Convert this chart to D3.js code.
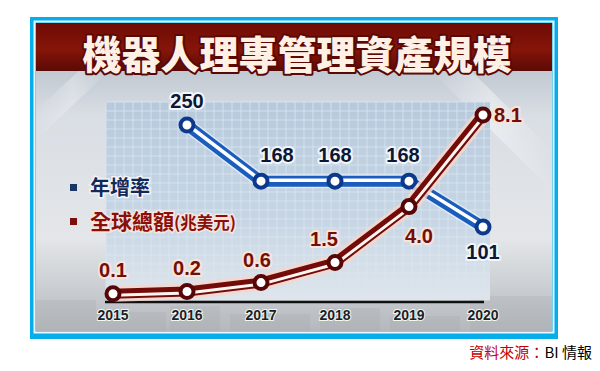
<!DOCTYPE html>
<html>
<head>
<meta charset="utf-8">
<script src="https://cdn.jsdelivr.net/npm/d3@7"></script>
<style>
  body { margin: 0; background: #fff; }
  text { font-family: "Noto Sans CJK TC", "Liberation Sans", sans-serif; }
</style>
</head>
<body>
<div id="chart"></div>
<script>
var width = 600
var height = 371

// data
var years = ["2015", "2016", "2017", "2018", "2019", "2020"]
var growth = [null, 250, 168, 168, 168, 101]          // 年增率
var total = [0.1, 0.2, 0.6, 1.5, 4.0, 8.1]            // 全球總額(兆美元)
var totalLabels = ["0.1", "0.2", "0.6", "1.5", "4.0", "8.1"]
var title = "機器人理專管理資產規模"

// label nudges (layout only)
var growthDx = [0, 0, 16, 0, -6, 0]
var growthDy = [0, -24, -26, -26, -26, 25]
var totalDx = [0, 0, -4, -11, 10, 11]
var totalDy = [-24, -24, -23, -24, 29, 0]

var x = d3.scalePoint().domain(years).range([113, 483])
var yG = d3.scaleLinear().domain([101, 250]).range([227, 125])
var yT = d3.scaleLinear().domain([0, 8.1]).range([296, 115])

var svg = d3.select("#chart").append("svg")
    .attr("width", width)
    .attr("height", height)

var defs = svg.append("defs")
var bg = defs.append("linearGradient").attr("id", "bg").attr("x1", 0).attr("y1", 0).attr("x2", 0).attr("y2", 1)
bg.append("stop").attr("offset", "0%").attr("stop-color", "#a7b1be")
bg.append("stop").attr("offset", "30%").attr("stop-color", "#d9dee4")
bg.append("stop").attr("offset", "70%").attr("stop-color", "#e4e6e9")
bg.append("stop").attr("offset", "100%").attr("stop-color", "#b4b8bd")

var ban = defs.append("linearGradient").attr("id", "ban").attr("x1", 0).attr("y1", 0).attr("x2", 0).attr("y2", 1)
ban.append("stop").attr("offset", "0%").attr("stop-color", "#6e0b05")
ban.append("stop").attr("offset", "55%").attr("stop-color", "#861509")
ban.append("stop").attr("offset", "100%").attr("stop-color", "#5a0a06")

var shine = defs.append("linearGradient").attr("id", "shine").attr("x1", 0).attr("y1", 0).attr("x2", 1).attr("y2", 0)
shine.append("stop").attr("offset", "0%").attr("stop-color", "#fff").attr("stop-opacity", 0)
shine.append("stop").attr("offset", "50%").attr("stop-color", "#fff").attr("stop-opacity", 0.5)
shine.append("stop").attr("offset", "100%").attr("stop-color", "#fff").attr("stop-opacity", 0)

var gp = defs.append("linearGradient").attr("id", "gp").attr("x1", 0).attr("y1", 0).attr("x2", 0).attr("y2", 1)
gp.append("stop").attr("offset", "0%").attr("stop-color", "#b3c8dc")
gp.append("stop").attr("offset", "60%").attr("stop-color", "#c3d4e4")
gp.append("stop").attr("offset", "100%").attr("stop-color", "#e2e8ee")

// frame
svg.append("rect").attr("x", 30).attr("y", 17).attr("width", 528).attr("height", 322).attr("fill", "#05aeea")
svg.append("rect").attr("x", 34.5).attr("y", 21.5).attr("width", 519).attr("height", 311).attr("fill", "none").attr("stroke", "#e8f7fd").attr("stroke-width", 2)
svg.append("rect").attr("x", 36).attr("y", 23).attr("width", 516).attr("height", 308).attr("fill", "url(#bg)")

// light diagonal streaks in the background
svg.append("polygon").attr("points", "430,70 470,70 552,150 552,190").attr("fill", "url(#shine)").attr("opacity", 0.8)
svg.append("polygon").attr("points", "36,110 36,140 110,70 80,70").attr("fill", "url(#shine)").attr("opacity", 0.6)

// rough skyline along the bottom
var sky = [[36, 300, 60], [96, 312, 70], [170, 306, 50], [230, 314, 80], [320, 308, 60], [390, 316, 70], [470, 296, 82]]
svg.append("g").selectAll("rect").data(sky).enter().append("rect")
    .attr("x", function(d) { return d[0] })
    .attr("y", function(d) { return d[1] })
    .attr("width", function(d) { return d[2] })
    .attr("height", function(d) { return 331 - d[1] })
    .attr("fill", "#9fa4aa").attr("opacity", 0.22)

// banner
svg.append("rect").attr("x", 36).attr("y", 23).attr("width", 516).attr("height", 48).attr("fill", "url(#ban)")
svg.append("text")
    .attr("x", 297).attr("y", 69)
    .attr("text-anchor", "middle")
    .style("font-size", "39px").style("font-weight", 900)
    .attr("fill", "#fff0e6")
    .attr("stroke", "#5a0805").attr("stroke-width", 4).attr("paint-order", "stroke")
    .attr("stroke-linejoin", "round")
    .text(title)

// grid panel
var grid = svg.append("g")
grid.append("rect").attr("x", 106).attr("y", 102).attr("width", 384).attr("height", 198).attr("fill", "url(#gp)").attr("opacity", 0.9)
grid.selectAll("line.v").data(d3.range(106, 491, 9)).enter().append("line")
    .attr("x1", function(d) { return d }).attr("x2", function(d) { return d })
    .attr("y1", 102).attr("y2", 300)
    .attr("stroke", "#dbe6f1").attr("stroke-width", 1).attr("opacity", 0.8)
grid.selectAll("line.h").data(d3.range(102, 301, 9)).enter().append("line")
    .attr("y1", function(d) { return d }).attr("y2", function(d) { return d })
    .attr("x1", 106).attr("x2", 490)
    .attr("stroke", "#dbe6f1").attr("stroke-width", 1).attr("opacity", 0.8)

// baseline + years
svg.append("line").attr("x1", 105).attr("x2", 484).attr("y1", 302).attr("y2", 302)
    .attr("stroke", "#111").attr("stroke-width", 2.5)
svg.append("g").selectAll("text").data(years).enter().append("text")
    .attr("x", function(d) { return x(d) })
    .attr("y", 320)
    .attr("text-anchor", "middle")
    .style("font-family", "'Liberation Sans', Arial, sans-serif")
    .style("font-size", "14px").style("font-weight", "bold")
    .attr("fill", "#1a1f2e")
    .attr("stroke", "#f4f6e8").attr("stroke-width", 2).attr("paint-order", "stroke")
    .text(function(d) { return d })

// growth line (blue)
var gPts = years.map(function(d, i) { return { x: x(d), v: growth[i], i: i } }).filter(function(d) { return d.v != null })
var gLine = d3.line().x(function(d) { return d.x }).y(function(d) { return yG(d.v) })
svg.append("path").attr("d", gLine(gPts)).attr("fill", "none")
    .attr("stroke", "#eef4fb").attr("stroke-width", 14).attr("stroke-linejoin", "round").attr("opacity", 0.7)
svg.append("path").attr("d", gLine(gPts)).attr("fill", "none")
    .attr("stroke", "#1b5dbd").attr("stroke-width", 11).attr("stroke-linejoin", "round")
svg.append("path").attr("d", gLine(gPts)).attr("fill", "none")
    .attr("transform", "translate(-0.5,-1)")
    .attr("stroke", "#ffffff").attr("stroke-width", 3.5).attr("stroke-linejoin", "round")
svg.append("g").selectAll("circle").data(gPts).enter().append("circle")
    .attr("cx", function(d) { return d.x }).attr("cy", function(d) { return yG(d.v) })
    .attr("r", 6.5).attr("fill", "#fff").attr("stroke", "#0b3a8c").attr("stroke-width", 4)

// total line (red)
var tPts = years.map(function(d, i) { return { x: x(d), v: total[i], i: i } })
var tLine = d3.line().x(function(d) { return d.x }).y(function(d) { return yT(d.v) })
svg.append("path").attr("d", tLine(tPts)).attr("fill", "none")
    .attr("stroke", "#f6d6cc").attr("stroke-width", 16).attr("stroke-linejoin", "round").attr("opacity", 0.85)
svg.append("path").attr("d", tLine(tPts)).attr("fill", "none")
    .attr("stroke", "#730b08").attr("stroke-width", 10).attr("stroke-linejoin", "round")
svg.append("path").attr("d", tLine(tPts)).attr("fill", "none")
    .attr("transform", "translate(0.5,1.5)")
    .attr("stroke", "#fff6f2").attr("stroke-width", 3).attr("stroke-linejoin", "round")
svg.append("g").selectAll("circle").data(tPts).enter().append("circle")
    .attr("cx", function(d) { return d.x }).attr("cy", function(d) { return yT(d.v) })
    .attr("r", 6.5).attr("fill", "#fff").attr("stroke", "#560606").attr("stroke-width", 4)

// value labels
svg.append("g").selectAll("text").data(gPts).enter().append("text")
    .attr("x", function(d) { return d.x + growthDx[d.i] })
    .attr("y", function(d) { return yG(d.v) + growthDy[d.i] })
    .attr("dy", "0.36em")
    .attr("text-anchor", "middle")
    .style("font-family", "'Liberation Sans', Arial, sans-serif")
    .style("font-size", "20px").style("font-weight", "bold")
    .attr("fill", "#0c1733")
    .attr("stroke", "#f2f6fb").attr("stroke-width", 4).attr("paint-order", "stroke").attr("stroke-linejoin", "round")
    .text(function(d) { return d.v })

svg.append("g").selectAll("text").data(tPts).enter().append("text")
    .attr("x", function(d) { return d.x + totalDx[d.i] })
    .attr("y", function(d) { return yT(d.v) + totalDy[d.i] })
    .attr("dy", "0.36em")
    .attr("text-anchor", function(d) { return d.i == years.length - 1 ? "start" : "middle" })
    .style("font-family", "'Liberation Sans', Arial, sans-serif")
    .style("font-size", "20px").style("font-weight", "bold")
    .attr("fill", "#6e1009")
    .attr("stroke", "#fbe3da").attr("stroke-width", 4).attr("paint-order", "stroke").attr("stroke-linejoin", "round")
    .text(function(d) { return totalLabels[d.i] })

// legend
var legend = svg.append("g")
legend.append("rect").attr("x", 70).attr("y", 184).attr("width", 7).attr("height", 7).attr("fill", "#1a3463")
legend.append("text").attr("x", 90).attr("y", 195)
    .style("font-size", "20px").style("font-weight", "bold")
    .attr("fill", "#13295a")
    .attr("stroke", "#f3f5f8").attr("stroke-width", 3).attr("paint-order", "stroke")
    .text("年增率")
legend.append("rect").attr("x", 70).attr("y", 218).attr("width", 7).attr("height", 7).attr("fill", "#7a0f0b")
var t2 = legend.append("text").attr("x", 90).attr("y", 229)
    .style("font-weight", "bold")
    .attr("fill", "#8a0f0a")
    .attr("stroke", "#f7e6e0").attr("stroke-width", 3).attr("paint-order", "stroke")
t2.append("tspan").style("font-size", "21px").text("全球總額")
t2.append("tspan").style("font-size", "16.5px").text("(兆美元)")

// source
var src = svg.append("text").attr("x", 592).attr("y", 358)
    .attr("text-anchor", "end")
    .style("font-size", "15px")
src.append("tspan").attr("fill", "#c40000").text("資料來源：")
src.append("tspan").attr("fill", "#000").text("BI 情報")
</script>
</body>
</html>
